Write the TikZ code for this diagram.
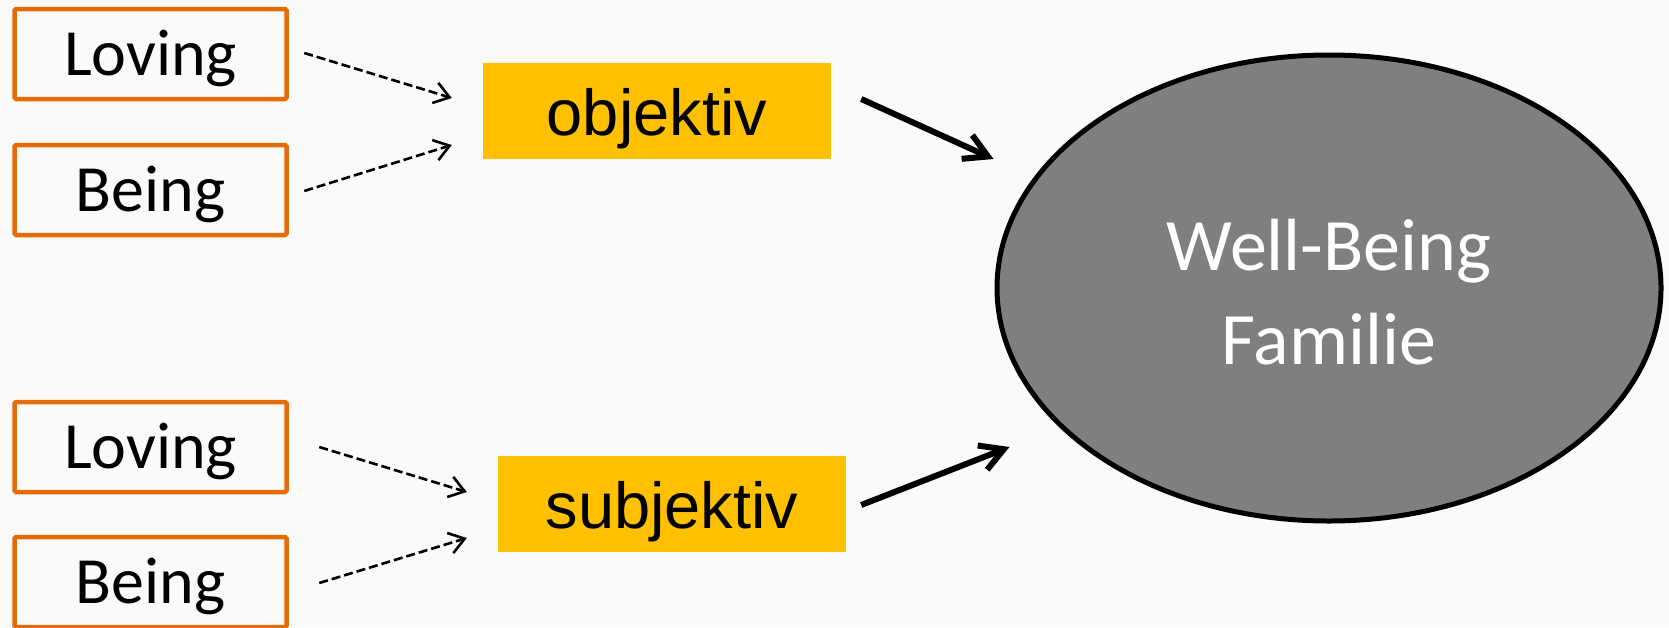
\documentclass[tikz,border=0pt]{standalone}
\usepackage{fontspec}
\setmainfont{Carlito}
\newfontfamily\arialfont{Liberation Sans}
\usetikzlibrary{arrows.meta,shapes.geometric,calc}
\definecolor{pagebg}{RGB}{250,250,250}
\definecolor{boxorange}{HTML}{E46C0A}
\definecolor{tagyellow}{HTML}{FFC000}
\definecolor{wbgray}{HTML}{7F7F7F}
\begin{document}
\begin{tikzpicture}[x=1pt,y=-1pt,
  facet/.style={draw=boxorange,line width=4.5pt,rounded corners=1.5pt,
    minimum width=272pt,minimum height=90pt,inner sep=0pt,
    text height=42pt,text depth=0pt,font=\fontsize{66}{79}\selectfont},
  tag/.style={fill=tagyellow,minimum width=348pt,minimum height=96pt,inner sep=0pt,
    text height=48pt,text depth=0pt,font=\arialfont\fontsize{65}{78}\selectfont},
  latent/.style={ellipse,draw=black,line width=5pt,fill=wbgray,
    minimum width=664pt,minimum height=466pt,inner sep=0pt,
    text=white,align=center,font=\fontsize{74}{89}\selectfont},
  feed/.style={line width=2.6pt,dash pattern=on 9pt off 4pt,
    -{Straight Barb[length=15pt,width=21pt]}},
  effect/.style={line width=6pt,-{Straight Barb[length=23pt,width=26pt]}}
]
% page
\fill[pagebg] (0,0) rectangle (1669,627);
\useasboundingbox (0,0) rectangle (1669,627);

% indicator boxes
\node[facet] (lov1) at (150.5,54)  {Loving};
\node[facet] (bei1) at (150.5,190) {Being};
\node[facet] (lov2) at (150.5,447) {Loving};
\node[facet] (bei2) at (150.5,582) {Being};

% dimensions
\node[tag] (obj) at (657,111) {objektiv};
\node[tag] (sub) at (672,504) {subjektiv};

% latent construct
\node[latent] (wb) at (1329,288) {\rule{0pt}{60pt}Well-Being\\[5pt]Familie};

% indicator -> dimension
\draw[feed] ($(lov1.east)+(15.5,-1)$) -- ($(obj.west)+(-31,-13)$);
\draw[feed] ($(bei1.east)+(15.5,1)$)  -- ($(obj.west)+(-31,34)$);
\draw[feed] ($(lov2.east)+(30.5,0)$)  -- ($(sub.west)+(-31,-12)$);
\draw[feed] ($(bei2.east)+(30.5,1)$)  -- ($(sub.west)+(-31,34)$);

% dimension -> construct
\draw[effect] ($(obj.east)+(30,-12)$) -- ($(wb.west)+(-1,-129)$);
\draw[effect] ($(sub.east)+(15,1)$)   -- ($(wb.west)+(15,159)$);
\end{tikzpicture}
\end{document}
